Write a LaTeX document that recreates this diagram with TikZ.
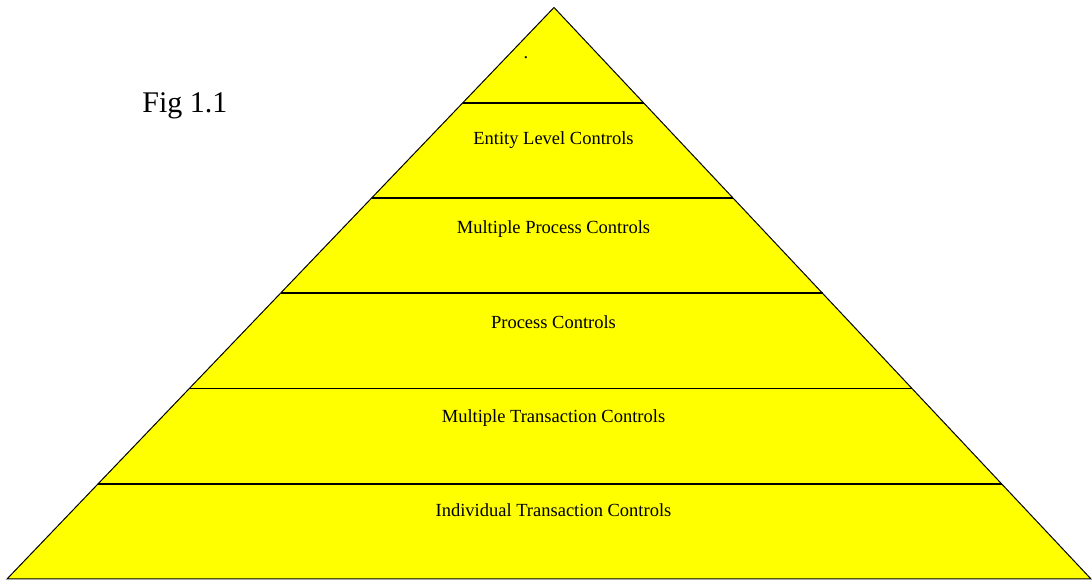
\documentclass[tikz,border=0pt]{standalone}
\usepackage{fontspec}
\setmainfont{Liberation Serif}
\usepackage{tikz}
\usetikzlibrary{positioning,calc}
\usepackage{xcolor}
\definecolor{pyryellow}{RGB}{255,255,0}

\begin{document}
\begin{tikzpicture}[x=0.5pt, y=-0.5pt,
    layer/.style={font=\fontsize{9.25}{11}\selectfont, anchor=base, inner sep=0pt},
    divider/.style={line width=0.8pt}]
            \useasboundingbox (0,0) rectangle (1092,581);
            
            % Pyramid corners
            \coordinate (top) at (554,7.5);
            \coordinate (bl) at (7,579);
            \coordinate (br) at (1091,579);
            \filldraw[fill=pyryellow, draw=black, line width=0.5pt] (top) -- (bl) -- (br) -- cycle;
            
            % Layer dividers
            \draw[divider] ($(top)!1/6!(bl)$) -- ($(top)!1/6!(br)$);
            \draw[divider] ($(top)!2/6!(bl)$) -- ($(top)!2/6!(br)$);
            \draw[divider] ($(top)!3/6!(bl)$) -- ($(top)!3/6!(br)$);
            \draw[divider] ($(top)!4/6!(bl)$) -- ($(top)!4/6!(br)$);
            \draw[divider] ($(top)!5/6!(bl)$) -- ($(top)!5/6!(br)$);
            
            % Layer labels
            \node[layer] (apex) at (526,59) {.};
            \node[layer] (entity) at (553.5,145) {Entity Level Controls};
            \node[layer] (multproc) at (553.5,234) {Multiple Process Controls};
            \node[layer] (proc) at (553.5,329) {Process Controls};
            \node[layer] (multtrans) at (553.5,423) {Multiple Transaction Controls};
            \node[layer] (indtrans) at (553.5,517) {Individual Transaction Controls};
            
            % Caption
            \node[font=\fontsize{15}{18}\selectfont, anchor=base west, inner sep=0pt] (fig) at (142,113) {Fig 1.1};
        \end{tikzpicture}
\end{document}
